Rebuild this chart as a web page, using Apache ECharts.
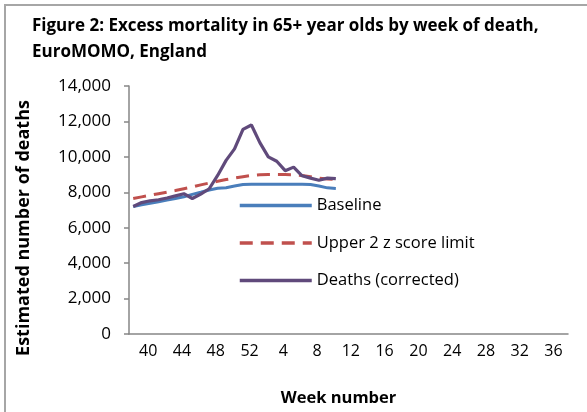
<!DOCTYPE html>
<html>
<head>
<meta charset="utf-8">
<script src="https://cdn.jsdelivr.net/npm/echarts@6/dist/echarts.min.js"></script>
<style>
html,body{margin:0;padding:0;background:#fff;}
#chart{width:587px;height:412px;}
</style>
</head>
<body>
<div id="chart"></div>
<script>
// Week numbers (week 40 of one year to week 39 of the next)
const weeks = [40,41,42,43,44,45,46,47,48,49,50,51,52,
  1,2,3,4,5,6,7,8,9,10,11,12,13,14,15,16,17,18,19,20,21,22,23,24,25,26,27,28,29,30,31,32,33,34,35,36,37,38,39];
// Series values (weeks 40 .. 12)
const baseline = [7200,7300,7380,7470,7560,7650,7750,7880,8000,8130,8230,8260,8350,8440,8460,8460,8460,8460,8460,8460,8460,8440,8350,8250,8220];
const upper2z  = [7650,7740,7830,7920,8010,8100,8200,8300,8420,8520,8620,8720,8800,8880,8950,8990,9000,9000,9000,8990,8950,8880,8800,8750,8720];
const deaths   = [7200,7420,7520,7580,7680,7800,7920,7650,7900,8200,8950,9800,10450,11550,11800,10800,10000,9750,9220,9420,8930,8800,8680,8800,8770];
const yTicks = [0,2000,4000,6000,8000,10000,12000,14000];

const chart = echarts.init(document.getElementById('chart'), null, {renderer:'canvas'});
const font = 'Open Sans';
const axisGray = '#868686';
chart.setOption({
  animation:false,
  backgroundColor:'#fff',
  graphic:[
    {type:'rect', shape:{x:5, y:5, width:600, height:420}, style:{fill:'none', stroke:'#A6A6A6', lineWidth:2}, silent:true}
  ],
  title:{
    text:'Figure 2: Excess mortality in 65+ year olds by week of death,\nEuroMOMO, England',
    left:27, top:8,
    textStyle:{fontFamily:font, fontWeight:'bold', fontSize:17, color:'#000', lineHeight:26}
  },
  grid:{left:129, right:19, top:86, bottom:77, containLabel:false},
  legend:{
    orient:'vertical', left:233, top:192,
    itemWidth:72, itemHeight:14, itemGap:20.5,
    itemStyle:{opacity:0},
    lineStyle:{opacity:1, width:3.5},
    textStyle:{fontFamily:font, fontSize:16.5, color:'#000'},
    data:['Baseline','Upper 2 z score limit','Deaths (corrected)']
  },
  xAxis:{
    type:'category', data:weeks, boundaryGap:true,
    name:'Week number', nameLocation:'middle', nameGap:56,
    nameTextStyle:{fontFamily:font, fontWeight:'bold', fontSize:16.5, color:'#000', padding:[0,20,0,0]},
    axisLine:{lineStyle:{color:axisGray, width:1.5}},
    axisTick:{interval:1, length:5, lineStyle:{color:axisGray, width:1.5}},
    axisLabel:{interval:3, margin:9, fontFamily:font, fontSize:16, color:'#000', padding:[0,0,0,30]},
    splitLine:{show:false}
  },
  yAxis:{
    type:'value', min:0, max:14000, interval:2000,
    name:'Estimated number of deaths', nameLocation:'middle', nameGap:96,
    nameTextStyle:{fontFamily:font, fontWeight:'bold', fontSize:18, color:'#000', padding:[0,36,0,0]},
    axisLine:{show:true, lineStyle:{color:axisGray, width:1.5}},
    axisTick:{show:true, length:5, lineStyle:{color:axisGray, width:1.5}},
    axisLabel:{margin:18, fontFamily:font, fontSize:17, color:'#000',
      formatter:v => v.toLocaleString('en-US')},
    splitLine:{show:false}
  },
  series:[
    {name:'Baseline', type:'line', data:baseline, symbol:'none', smooth:false,
      lineStyle:{color:'#4A7EBB', width:3}, itemStyle:{color:'#4A7EBB'}},
    {name:'Upper 2 z score limit', type:'line', data:upper2z, symbol:'none',
      lineStyle:{color:'#C0504D', width:3, type:[13,8]}, itemStyle:{color:'#C0504D'}},
    {name:'Deaths (corrected)', type:'line', data:deaths, symbol:'none',
      lineStyle:{color:'#604A7B', width:3.2}, itemStyle:{color:'#604A7B'}}
  ]
});
</script>
</body>
</html>
